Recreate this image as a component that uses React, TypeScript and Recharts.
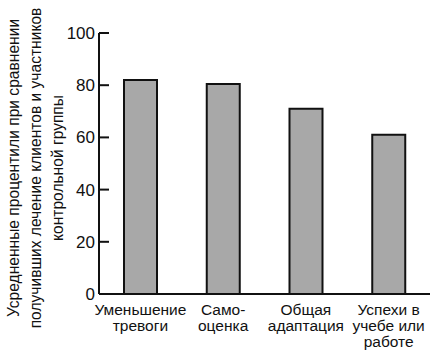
import React from "react";
import { BarChart, Bar, XAxis, YAxis } from "recharts";

const categories = ["Уменьшение\nтревоги", "Само-\nоценка", "Общая\nадаптация", "Успехи в\nучебе или\nработе"];
const values = [82, 80.5, 71, 61];
const yTicks = [0, 20, 40, 60, 80, 100];
const yLabelLines = [
  "Усредненные процентили при сравнении",
  "получивших лечение клиентов и участников",
  "контрольной группы",
];

const data = categories.map((c, i) => ({ name: c, value: values[i] }));
const FONT = "'Liberation Sans', Arial, Helvetica, sans-serif";

const XTick = (props: any) => {
  const { x, y, payload } = props;
  const lines = String(payload.value).split("\n");
  return (
    <text x={x} y={y} textAnchor="middle" fontSize={15.5} fontFamily={FONT} fill="#111">
      {lines.map((l, i) => (
        <tspan key={i} x={x} y={y + 12.5 + i * 16.3}>
          {l}
        </tspan>
      ))}
    </text>
  );
};

const YLabel = () => (
  <text transform="rotate(-90)" textAnchor="middle" fontSize={15.6} fontFamily={FONT} fill="#111">
    {yLabelLines.map((l, i) => (
      <tspan key={i} x={-168} y={19 + i * 22}>
        {l}
      </tspan>
    ))}
  </text>
);

export default function App() {
  return (
    <div style={{ position: "absolute", left: 0, top: 0, width: 433, height: 351, background: "#fff" }}>
      <BarChart
        width={433}
        height={351}
        data={data}
        margin={{ top: 33, right: 3, bottom: 0, left: 0 }}
        barCategoryGap={0}
      >
        <XAxis
          dataKey="name"
          tick={<XTick />}
          tickLine={false}
          axisLine={{ stroke: "#111", strokeWidth: 2 }}
          interval={0}
          height={57}
        />
        <YAxis
          width={99}
          domain={[0, 100]}
          ticks={yTicks}
          interval={0}
          tickSize={-10}
          tickMargin={14}
          tickLine={{ stroke: "#111", strokeWidth: 2 }}
          axisLine={{ stroke: "#111", strokeWidth: 2 }}
          tick={{ fontSize: 17, fontFamily: FONT, fill: "#111" }}
          label={{ content: () => <YLabel /> }}
        />
        <Bar
          dataKey="value"
          barSize={33}
          fill="#a8a8a8"
          stroke="#111"
          strokeWidth={2}
          isAnimationActive={false}
        />
      </BarChart>
    </div>
  );
}
